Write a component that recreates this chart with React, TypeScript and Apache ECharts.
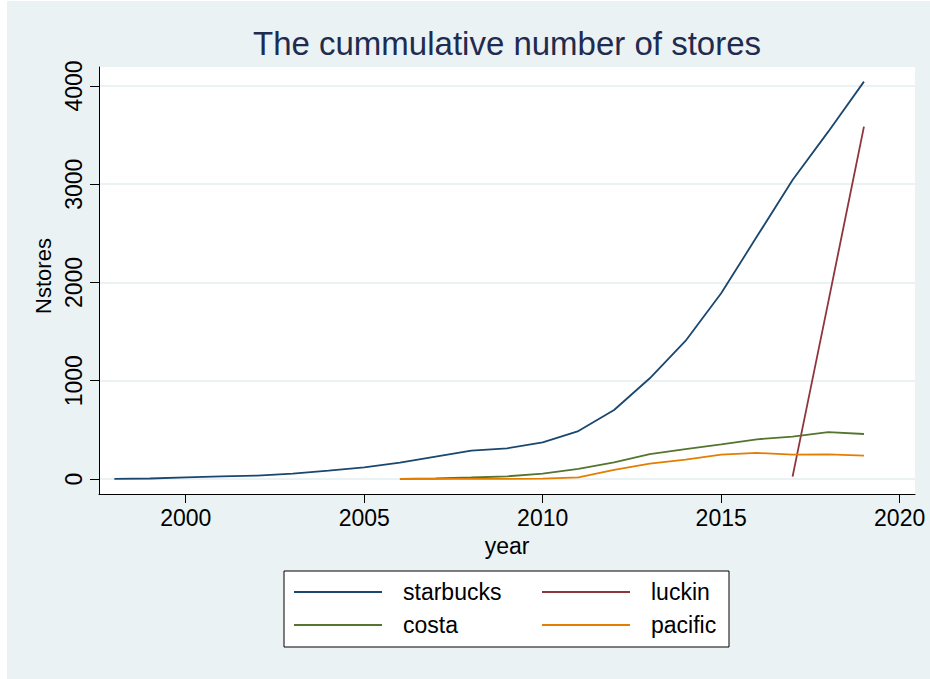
import React, { useEffect, useRef } from "react";
import * as echarts from "echarts";

const years = [1998, 1999, 2000, 2001, 2002, 2003, 2004, 2005, 2006, 2007, 2008, 2009, 2010, 2011, 2012, 2013, 2014, 2015, 2016, 2017, 2018, 2019];
const starbucks = [2, 5, 17, 27, 34, 54, 85, 119, 166, 227, 288, 312, 373, 488, 702, 1025, 1405, 1890, 2467, 3043, 3535, 4044];
const luckin = [null, null, null, null, null, null, null, null, null, null, null, null, null, null, null, null, null, null, null, 24, 1800, 3586];
const costa = [null, null, null, null, null, null, null, null, 1, 5, 15, 27, 54, 102, 170, 254, 305, 353, 404, 431, 478, 458];
const pacific = [null, null, null, null, null, null, null, null, 1, 1, 2, 2, 3, 17, 92, 156, 197, 248, 265, 248, 250, 238];

const seriesNames = ["starbucks", "luckin", "costa", "pacific"];
const seriesValues = [starbucks, luckin, costa, pacific];
const seriesColors = ["#1a476f", "#90353b", "#55752f", "#e37e00"];

const xTicks = [2000, 2005, 2010, 2015, 2020];
const yTicks = [0, 1000, 2000, 3000, 4000];

const titleText = "The cummulative number of stores";
const FONT = "'Liberation Sans', Arial, Helvetica, sans-serif";

export default function App() {
  const ref = useRef<HTMLDivElement>(null);
  useEffect(() => {
    if (!ref.current) return;
    const chart = echarts.init(ref.current, null, { renderer: "svg" });
    const series = seriesNames.map((name, i) => ({
      name,
      type: "line",
      data: years.map((y, j) => [y, seriesValues[i][j]]),
      showSymbol: false,
      connectNulls: false,
      lineStyle: { width: 1.8, color: seriesColors[i] },
      itemStyle: { color: seriesColors[i] },
    }));
    const legendCommon = {
      orient: "vertical",
      top: 580.5,
      padding: 0,
      itemWidth: 88,
      itemHeight: 2,
      itemGap: 10,
      icon: "rect",
      textStyle: {
        fontFamily: FONT,
        fontSize: 23,
        lineHeight: 23,
        color: "#000",
        padding: [0, 0, 0, 16],
      },
    };
    const plain = (v: number) => String(v);
    chart.setOption({
      animation: false,
      backgroundColor: "transparent",
      textStyle: { fontFamily: FONT },
      graphic: [
        {
          type: "rect",
          z: 1,
          shape: { x: 284, y: 571, width: 445, height: 76 },
          style: { fill: "#fff", stroke: "#000", lineWidth: 1 },
        },
        {
          type: "text",
          x: 507,
          y: 43,
          style: {
            text: titleText,
            fontFamily: FONT,
            fontSize: 33,
            fill: "#1f2b4f",
            textAlign: "center",
            textVerticalAlign: "middle",
          },
        },
      ],
      legend: [
        { ...legendCommon, left: 294, data: ["starbucks", "costa"] },
        { ...legendCommon, left: 542, data: ["luckin", "pacific"] },
      ],
      grid: {
        left: 99,
        top: 67,
        width: 816,
        height: 427,
        show: true,
        backgroundColor: "#ffffff",
        borderWidth: 0,
      },
      xAxis: {
        type: "value",
        min: 1997.57,
        max: 2020.43,
        name: "year",
        nameLocation: "middle",
        nameGap: 40,
        nameTextStyle: { fontFamily: FONT, fontSize: 23, color: "#000" },
        axisLine: { show: true, onZero: false, lineStyle: { color: "#000", width: 1 } },
        axisTick: { show: true, length: 9, customValues: xTicks, lineStyle: { color: "#000", width: 1 } },
        axisLabel: {
          customValues: xTicks,
          formatter: plain,
          margin: 12,
          fontFamily: FONT,
          fontSize: 23,
          color: "#000",
        },
        splitLine: { show: false },
      },
      yAxis: {
        type: "value",
        min: -152.7,
        max: 4193,
        name: "Nstores",
        nameLocation: "middle",
        nameGap: 42,
        nameRotate: 90,
        nameTextStyle: { fontFamily: FONT, fontSize: 22, color: "#000", padding: [0, 0, 0, 9] },
        axisLine: { show: true, onZero: false, lineStyle: { color: "#000", width: 1 } },
        axisTick: { show: true, length: 9, customValues: yTicks, lineStyle: { color: "#000", width: 1 } },
        axisLabel: {
          customValues: yTicks,
          formatter: plain,
          rotate: 90,
          margin: 14,
          fontFamily: FONT,
          fontSize: 23,
          color: "#000",
        },
        splitLine: { show: true, lineStyle: { color: "#eaf2f3", width: 2 } },
      },
      series,
    });
    return () => chart.dispose();
  }, []);
  return (
    <div style={{ position: "fixed", left: 0, top: 0, width: 930, height: 679, background: "#fff" }}>
      <div style={{ position: "absolute", left: 7, top: 1, right: 0, bottom: 0, background: "#eaf2f3" }} />
      <div ref={ref} style={{ position: "absolute", left: 0, top: 0, width: 930, height: 679 }} />
    </div>
  );
}
